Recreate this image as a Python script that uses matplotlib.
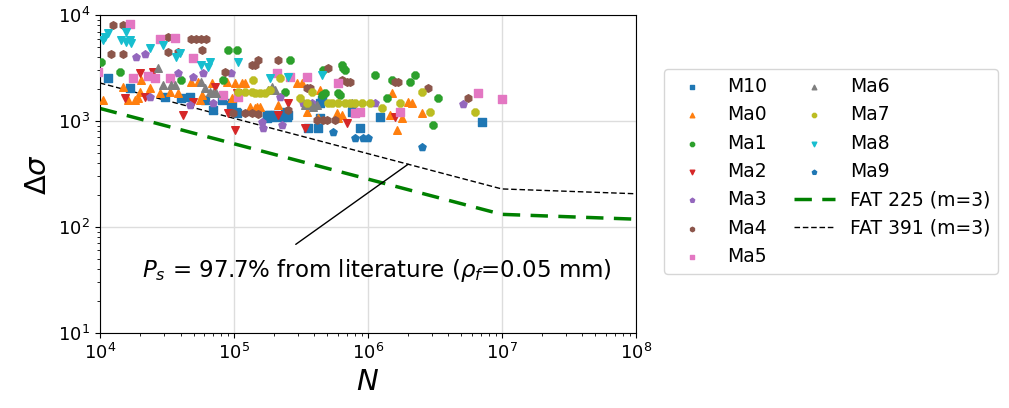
import matplotlib
matplotlib.use('Agg')
import matplotlib.pyplot as plt

# cycles to failure N and stress range per series
M10_N = [1.15e4, 1.67e4, 3.06e4, 4.02e4, 4.70e4, 6.08e4, 6.97e4, 8.14e4, 9.50e4, 9.66e4,
         1.04e5, 1.05e5, 1.76e5, 1.86e5, 2.02e5, 1.76e5, 1.95e5, 2.28e5, 2.40e5, 2.49e5,
         2.53e5, 4.38e5, 4.54e5, 4.38e5, 7.60e5, 1.23e6, 3.57e5, 4.24e5, 8.72e5, 7.09e6]
M10_S = [2550, 2050, 1680, 1650, 1680, 1580, 1270, 1580, 1420, 1480,
         1220, 1190, 1140, 1140, 1140, 1070, 1090, 1090, 1220, 1090,
         1140, 1480, 1580, 1070, 1220, 1090, 859, 859, 859, 979]

Ma0_N = [1.05e4, 1.48e4, 2.02e4, 1.99e4, 2.36e4, 2.80e4, 1.62e4, 1.82e4, 1.92e4, 3.33e4,
         3.82e4, 4.78e4, 5.39e4, 5.58e4, 5.77e4, 6.85e4, 8.87e4, 9.66e4, 1.02e5, 1.15e5,
         1.21e5, 1.32e5, 1.43e5, 1.48e5, 1.56e5, 2.13e5, 2.95e5, 3.22e5, 3.51e5, 4.24e5,
         4.38e5, 5.87e5, 6.40e5, 5.97e5, 1.46e6, 1.51e6, 1.65e6, 1.79e6, 1.99e6, 2.13e6, 2.53e6]
Ma0_S = [1580, 2090, 2440, 1880, 2050, 1840, 1580, 1580, 1650, 1880,
         1840, 2330, 2330, 1580, 1760, 2280, 2330, 1650, 2280, 2280,
         2280, 1360, 1330, 1360, 1360, 1420, 2280, 2280, 1220, 1070,
         1960, 1190, 1140, 1070, 1140, 1840, 822, 1070, 1510, 1480, 1190]

Ma1_N = [1.02e4, 1.41e4, 4.02e4, 8.28e4, 9.02e4, 1.05e5, 2.40e5, 2.62e5, 4.54e5, 4.62e5,
         4.78e5, 5.97e5, 6.18e5, 6.40e5, 6.51e5, 6.74e5, 1.13e6, 1.39e6, 1.51e6, 2.06e6,
         2.24e6, 3.06e6, 3.33e6]
Ma1_S = [3600, 2900, 2440, 2440, 4680, 4680, 1880, 3760, 1760, 3030,
         1840, 1840, 1760, 3380, 3160, 3030, 2720, 1650, 2440, 2330,
         2720, 917, 1650]

Ma2_N = [1.54e4, 1.99e4, 2.17e4, 2.49e4, 4.16e4, 4.94e4, 7.21e4, 9.02e4, 1.02e5, 1.05e5,
         2.13e5, 2.53e5, 3.39e5, 6.97e5, 1.59e6]
Ma2_S = [1650, 2840, 1680, 2900, 1140, 1510, 2090, 1190, 822, 1840,
         1140, 1480, 859, 957, 1090]

Ma3_N = [1.86e4, 2.17e4, 2.36e4, 3.82e4, 4.70e4, 4.94e4, 5.87e4, 6.97e4, 9.50e4, 1.62e5,
         1.65e5, 2.20e5, 2.28e5, 3.27e5, 3.82e5, 1.13e6, 5.12e6]
Ma3_S = [4020, 4290, 1680, 2840, 1420, 2600, 2840, 1480, 2840, 979,
         859, 1680, 917, 1480, 1480, 1480, 1450]

Ma4_N = [1.25e4, 1.48e4, 1.21e4, 1.48e4, 3.22e4, 3.22e4, 3.82e4, 4.78e4, 5.20e4, 5.67e4,
         6.18e4, 5.77e4, 8.57e4, 9.83e4, 1.21e5, 1.36e5, 1.51e5, 1.36e5, 1.43e5, 1.51e5,
         2.13e5, 2.53e5, 3.51e5, 3.69e5, 4.16e5, 4.62e5, 4.94e5, 5.03e5, 5.67e5, 6.40e5,
         6.97e5, 7.34e5, 1.59e6, 1.67e6, 2.80e6, 5.58e6]
Ma4_S = [8050, 8050, 4290, 4290, 6200, 4480, 4480, 5940, 5940, 5940,
         5940, 4680, 2900, 1190, 1190, 1190, 1160, 3380, 3380, 3760,
         3760, 1270, 2050, 2050, 1020, 1020, 1020, 3160, 1020, 2440,
         2330, 2330, 2330, 2330, 2050, 1650]

Ma5_N = [9.66e3, 1.67e4, 1.76e4, 2.28e4, 2.57e4, 2.80e4, 3.33e4, 3.63e4, 4.94e4, 8.28e4,
         1.07e5, 2.09e5, 2.62e5, 3.51e5, 5.97e5, 8.00e5, 8.72e5, 1.73e6, 6.62e6, 1.0e7]
Ma5_S = [2900, 8230, 2550, 2660, 2550, 5940, 2550, 6070, 3930, 1760,
         1680, 2840, 2600, 2600, 2280, 1190, 1220, 1220, 1840, 1610]

Ma6_N = [2.71e4, 2.95e4, 3.39e4, 3.63e4, 5.67e4, 6.08e4, 6.62e4, 6.97e4, 7.34e4, 1.79e5,
         1.92e5, 2.02e5, 3.39e5, 3.82e5, 3.89e5, 4.16e5, 7.60e5]
Ma6_S = [3160, 2190, 2190, 2190, 2330, 2050, 1880, 1840, 1840, 1960,
         2090, 1960, 1420, 1420, 1360, 1420, 1480]

Ma7_N = [1.07e5, 1.21e5, 1.36e5, 1.43e5, 1.56e5, 1.70e5, 1.86e5, 1.39e5, 2.20e5, 3.11e5,
         3.51e5, 3.82e5, 5.03e5, 5.39e5, 5.97e5, 6.74e5, 7.34e5, 8.00e5, 9.02e5, 1.04e6,
         1.27e6, 1.73e6, 2.53e6, 2.90e6, 6.29e6]
Ma7_S = [1880, 1880, 1880, 1840, 1840, 1840, 1960, 2440, 2550, 1650,
         1480, 1880, 1480, 1480, 1480, 1480, 1480, 1480, 1480, 1480,
         1330, 1480, 1880, 1220, 1220]

Ma8_N = [1.05e4, 1.09e4, 1.15e4, 1.43e4, 1.56e4, 1.56e4, 1.67e4, 1.70e4, 2.36e4, 2.95e4,
         3.69e4, 3.95e4, 5.67e4, 6.40e4, 6.62e4, 1.07e5, 1.86e5, 2.53e5, 4.54e5]
Ma8_S = [5810, 6200, 6770, 5810, 5560, 6910, 5810, 5440, 4880, 5210,
         4020, 4380, 3380, 3230, 3600, 3600, 2550, 2600, 2720]

Ma9_N = [5.48e5, 8.00e5, 9.18e5, 1.00e6, 2.53e6]
Ma9_S = [788, 691, 691, 691, 568]

labels = ['M10', 'Ma0', 'Ma1', 'Ma2', 'Ma3', 'Ma4', 'Ma5', 'Ma6', 'Ma7', 'Ma8', 'Ma9']
series_N = [M10_N, Ma0_N, Ma1_N, Ma2_N, Ma3_N, Ma4_N, Ma5_N, Ma6_N, Ma7_N, Ma8_N, Ma9_N]
series_S = [M10_S, Ma0_S, Ma1_S, Ma2_S, Ma3_S, Ma4_S, Ma5_S, Ma6_S, Ma7_S, Ma8_S, Ma9_S]
markers = ['s', '^', '8', 'v', 'p', 'h']

# FAT curves, knee points at 1e7
fat_N = [1e4, 1e7, 1e8]
fat225_S = [1316, 131.6, 118.5]
fat391_S = [2287, 228.7, 205.9]

fig = plt.figure(figsize=(10.09, 4.08), dpi=100)
ax = fig.add_axes([0.099, 0.184, 0.531, 0.779])

colors = plt.rcParams['axes.prop_cycle'].by_key()['color']
for i in range(len(labels)):
	ax.scatter(series_N[i], series_S[i], s=30, marker=markers[i % 6],
	           color=colors[i % 10], label=labels[i], zorder=3)

ax.plot(fat_N, fat225_S, color='green', linestyle='--', linewidth=2.5, dashes=(5, 3),
        label='FAT 225 (m=3)', zorder=2)
ax.plot(fat_N, fat391_S, color='black', linestyle='--', linewidth=1, dashes=(4, 2),
        label='FAT 391 (m=3)', zorder=2)

ax.annotate(r'$P_s$ = 97.7% from literature ($\rho_f$=0.05 mm)', xy=(2e6, 391),
            xytext=(1.17e6, 39), ha='center', va='center', fontsize=16.5,
            arrowprops=dict(arrowstyle='-', color='black', relpos=(0.29, 1.0),
                            shrinkA=12, shrinkB=0, linewidth=1))

ax.set_xscale('log')
ax.set_yscale('log')
ax.set_xlim(1e4, 1e8)
ax.set_ylim(1e1, 1e4)
ax.grid(True, which='major', color='#dddddd', linewidth=1)
ax.set_axisbelow(True)
ax.tick_params(labelsize=13)
ax.set_xlabel(r'$N$', fontsize=21)
ax.set_ylabel(r'$\Delta\sigma$', fontsize=21)

ax.legend(loc='center left', bbox_to_anchor=(1.035, 0.508), ncol=2, fontsize=13.5,
          markerscale=0.6, handlelength=2.2, columnspacing=1.4)

fig.savefig('out.png', dpi=100)
